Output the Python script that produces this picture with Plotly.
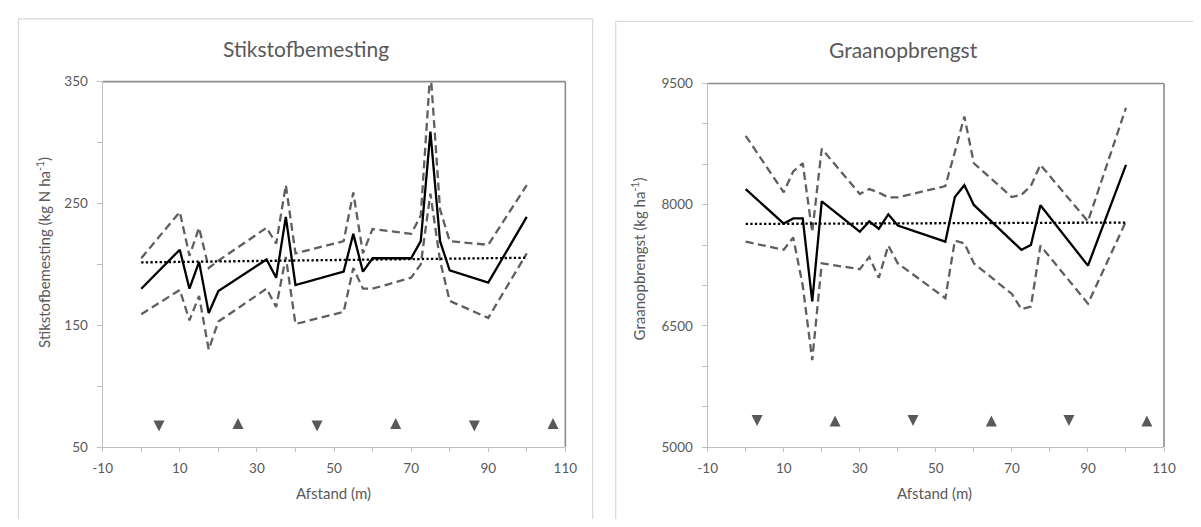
import plotly.graph_objects as go

# ---------------- data: Stikstofbemesting (left) ----------------
n_x = [0, 10, 12.5, 15, 17.5, 20, 32.5, 35, 37.5, 40, 52.5, 55, 57.5, 60, 70, 72.5, 75, 77.5, 80, 90, 100]
n_mean = [180, 212, 180, 202, 160, 178, 204, 189, 239, 183, 194, 225, 194, 205, 205, 219, 309, 219, 195, 185, 239]
n_upper = [205, 243, 207, 230, 197, 203, 230, 217, 265, 209, 219, 259, 209, 229, 225, 240, 360, 245, 219, 216, 265]
n_lower = [159, 179, 154, 174, 130, 153, 180, 165, 206, 151, 161, 197, 180, 180, 189, 200, 258, 203, 170, 156, 209]
n_trend_x = [0, 100]
n_trend_y = [201.6, 205.4]

# ---------------- data: Graanopbrengst (right) ----------------
g_x = [0, 10, 12.5, 15, 17.5, 20, 30, 32.5, 35, 37.5, 40, 52.5, 55, 57.5, 60, 70, 72.5, 75, 77.5, 90, 100]
g_mean = [8193, 7766, 7830, 7830, 6802, 8042, 7666, 7794, 7702, 7881, 7742, 7542, 8094, 8241, 7997, 7550, 7442, 7502, 7994, 7246, 8493]
g_upper = [8853, 8153, 8413, 8513, 7660, 8693, 8133, 8193, 8150, 8090, 8090, 8230, 8653, 9092, 8513, 8094, 8122, 8234, 8493, 7794, 9200]
g_lower = [7542, 7442, 7594, 7000, 6075, 7274, 7202, 7354, 7094, 7494, 7274, 6843, 7554, 7522, 7274, 6895, 6706, 6740, 7494, 6775, 7794]
g_trend_x = [0, 100]
g_trend_y = [7762, 7779]

# ---------------- triangle markers ----------------
n_tri_down_x = [4.6, 45.6, 86.4]
n_tri_up_x = [25.1, 66.0, 106.8]
n_tri_down_y = 62.7
n_tri_up_y = 73.9
g_tri_down_x = [3.0, 44.0, 85.0]
g_tri_up_x = [23.5, 64.6, 105.5]
g_tri_down_y = 5260
g_tri_up_y = 5390

# ---------------- ticks and text ----------------
x_tick_vals = [-10, 10, 30, 50, 70, 90, 110]
x_tick_text = ["-10", "10", "30", "50", "70", "90", "110"]
x_minor_vals = [0, 20, 40, 60, 80, 100]
n_tick_vals = [50, 150, 250, 350]
g_tick_vals = [5000, 6500, 8000, 9500]
titles = ["Stikstofbemesting", "Graanopbrengst"]
y_titles = ["Stikstofbemesting (kg N ha<sup>-1</sup>)", "Graanopbrengst (kg ha<sup>-1</sup>)"]
x_title = "Afstand (m)"

# The page body has an 8px margin; the figure is sized so the page fits the window.
OFF = 8
W, H = 1201 - 2 * OFF, 527 - 2 * OFF
FONT = "Lato"
TXT = "#595959"
AX = "#bfbfbf"
DASH = "#5f5f5f"


def fx(p):
    return (p - OFF) / W


def fy(p):
    return 1 - (p - OFF) / H


fig = go.Figure()


def add_panel(xa, ya, x, mean, upper, lower, tx, ty, dx, ux, dy, uy):
    common = dict(xaxis=xa, yaxis=ya, mode="lines", showlegend=False, hoverinfo="skip")
    fig.add_trace(go.Scatter(x=x, y=upper, line=dict(color=DASH, width=2.3, dash="8px,4.5px"), **common))
    fig.add_trace(go.Scatter(x=x, y=lower, line=dict(color=DASH, width=2.3, dash="8px,4.5px"), **common))
    fig.add_trace(go.Scatter(x=x, y=mean, line=dict(color="black", width=2.3), **common))
    fig.add_trace(go.Scatter(x=tx, y=ty, line=dict(color="black", width=2.3, dash="2.3px,2.3px"), **common))
    fig.add_trace(go.Scatter(x=dx, y=[dy] * len(dx), xaxis=xa, yaxis=ya, mode="markers", showlegend=False,
                             marker=dict(symbol="arrow-down", size=11, color=TXT, line=dict(width=0)),
                             cliponaxis=False, hoverinfo="skip"))
    fig.add_trace(go.Scatter(x=ux, y=[uy] * len(ux), xaxis=xa, yaxis=ya, mode="markers", showlegend=False,
                             marker=dict(symbol="arrow-up", size=11, color=TXT, line=dict(width=0)),
                             cliponaxis=False, hoverinfo="skip"))


add_panel("x", "y", n_x, n_mean, n_upper, n_lower, n_trend_x, n_trend_y,
          n_tri_down_x, n_tri_up_x, n_tri_down_y, n_tri_up_y)
add_panel("x2", "y2", g_x, g_mean, g_upper, g_lower, g_trend_x, g_trend_y,
          g_tri_down_x, g_tri_up_x, g_tri_down_y, g_tri_up_y)

tickfont = dict(family=FONT, size=13.5, color=TXT)
xcommon = dict(range=[-10, 110], tickmode="array", tickvals=x_tick_vals, ticktext=x_tick_text,
               ticks="outside", ticklen=4, tickcolor=AX, tickwidth=1.2,
               showline=True, linecolor=AX, linewidth=1.3, showgrid=False, zeroline=False, tickfont=tickfont,
               ticklabelstandoff=5,
               minor=dict(tickmode="array", tickvals=x_minor_vals, ticks="outside", ticklen=4,
                          tickcolor=AX, tickwidth=1.2, showgrid=False))
ycommon = dict(ticks="outside", ticklen=5, tickcolor=AX, tickwidth=1.2, showline=True, linecolor=AX, linewidth=1.3,
               showgrid=False, zeroline=False, tickfont=tickfont, ticklabelstandoff=6, tickmode="array")

fig.update_layout(
    width=W, height=H, margin=dict(l=0, r=0, t=0, b=0),
    paper_bgcolor="white", plot_bgcolor="white",
    xaxis=dict(domain=[fx(94.3), fx(565.7)], anchor="y", **xcommon),
    yaxis=dict(domain=[fy(453), fy(75.7)], anchor="x", range=[50, 350], tickvals=n_tick_vals,
               minor=dict(tickmode="linear", dtick=50, tick0=50, ticks="outside", ticklen=5, tickcolor=AX,
                          tickwidth=1.2, showgrid=False), **ycommon),
    xaxis2=dict(domain=[fx(710.7), fx(1175.7)], anchor="y2", **xcommon),
    yaxis2=dict(domain=[fy(453), fy(77.7)], anchor="x2", range=[5000, 9500], tickvals=g_tick_vals,
                minor=dict(tickmode="linear", dtick=500, tick0=5000, ticks="outside", ticklen=5, tickcolor=AX,
                           tickwidth=1.2, showgrid=False), **ycommon),
)

shapes = [
    # chart area borders
    dict(type="rect", xref="paper", yref="paper", x0=fx(8.5), x1=fx(593.5), y0=fy(545), y1=fy(11),
         line=dict(color="#d9d9d9", width=1.2), fillcolor="rgba(0,0,0,0)", layer="below"),
    dict(type="rect", xref="paper", yref="paper", x0=fx(617), x1=fx(1215), y0=fy(545), y1=fy(13.5),
         line=dict(color="#d9d9d9", width=1.2), fillcolor="rgba(0,0,0,0)", layer="below"),
]
for xr, yr in [("x", "y"), ("x2", "y2")]:
    shapes.append(dict(type="line", xref=xr + " domain", yref=yr + " domain", x0=0, x1=1, y0=1, y1=1,
                       line=dict(color="#8c8c8c", width=1.6)))
    shapes.append(dict(type="line", xref=xr + " domain", yref=yr + " domain", x0=1, x1=1, y0=0, y1=1,
                       line=dict(color="#8c8c8c", width=1.6)))
fig.update_layout(shapes=shapes)

ann = [
    dict(text=titles[0], x=fx(301), y=fy(42), font=dict(family=FONT, size=21, color=TXT)),
    dict(text=titles[1], x=fx(910), y=fy(43), font=dict(family=FONT, size=21, color=TXT)),
    dict(text=y_titles[0], x=fx(34), y=fy(252), textangle=-90, font=dict(family=FONT, size=15, color=TXT)),
    dict(text=y_titles[1], x=fx(640), y=fy(259), textangle=-90, font=dict(family=FONT, size=15, color=TXT)),
    dict(text=x_title, x=fx(329), y=fy(500), font=dict(family=FONT, size=15, color=TXT)),
    dict(text=x_title, x=fx(942), y=fy(500), font=dict(family=FONT, size=15, color=TXT)),
]
for a in ann:
    a.update(xref="paper", yref="paper", showarrow=False, xanchor="center", yanchor="middle")
fig.update_layout(annotations=ann)

fig.write_html("out.html")
